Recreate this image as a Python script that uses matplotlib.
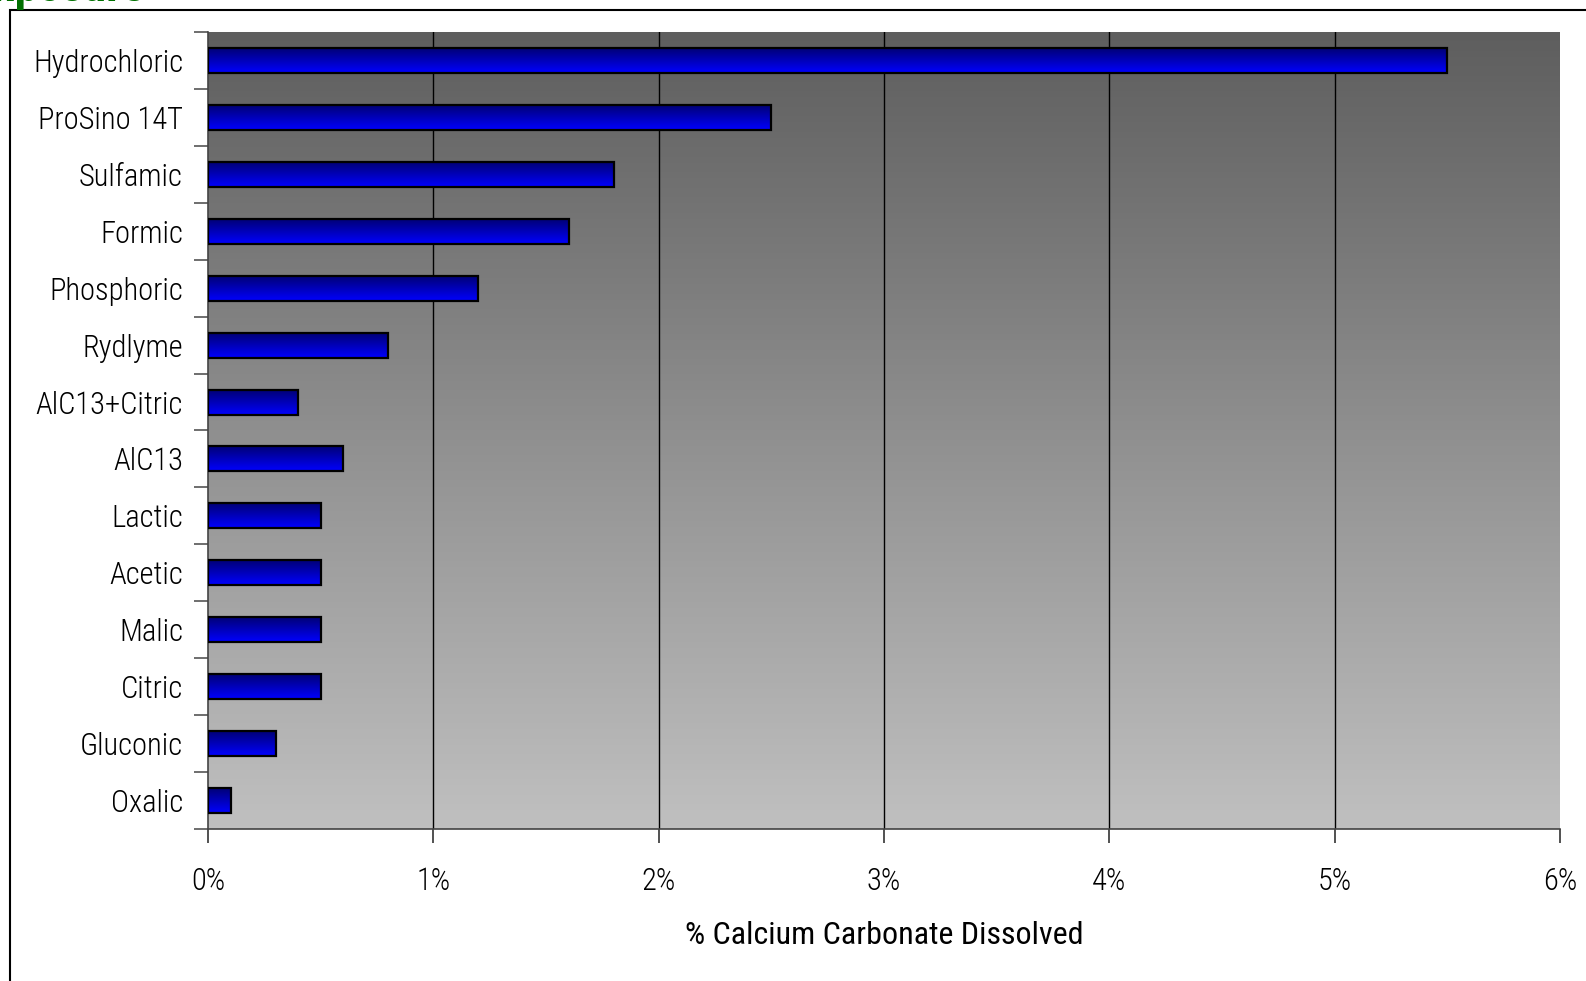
import numpy as np
import matplotlib
matplotlib.use("Agg")
import matplotlib.pyplot as plt
import matplotlib.ticker as ticker
from matplotlib import font_manager
from matplotlib.patches import Rectangle
from matplotlib.colors import LinearSegmentedColormap

# Data (top to bottom)
acids = ["Hydrochloric", "ProSino 14T", "Sulfamic", "Formic", "Phosphoric",
         "Rydlyme", "AlC13+Citric", "AlC13", "Lactic", "Acetic", "Malic",
         "Citric", "Gluconic", "Oxalic"]
dissolved = [5.5, 2.5, 1.8, 1.6, 1.2, 0.8, 0.4, 0.6, 0.5, 0.5, 0.5, 0.5, 0.3, 0.1]
xticks = [0, 1, 2, 3, 4, 5, 6]

# pick a narrow font if one is there
names = {f.name for f in font_manager.fontManager.ttflist}
font = "DejaVu Sans"
for cand in ["Roboto Condensed", "Liberation Sans Narrow", "DejaVu Sans Condensed"]:
    if cand in names:
        font = cand
        break
plt.rcParams["font.family"] = [font, "DejaVu Sans"]

fig = plt.figure(figsize=(15.86, 9.81), dpi=100)
W, H = 1586, 981
ax = fig.add_axes([208 / W, 1 - 829 / H, (1560 - 208) / W, (829 - 32) / H])

n = len(acids)
y = np.arange(n)

# background gradient (dark top -> light bottom)
bg = LinearSegmentedColormap.from_list("bg", ["#5e5e5e", "#c0c0c0"])
grad = np.linspace(0, 1, 256).reshape(-1, 1)
ax.imshow(grad, cmap=bg, aspect="auto", extent=(0, 6, n - 0.5, -0.5), zorder=0)

# gridlines
for xv in xticks[1:-1]:
    ax.axvline(xv, color="black", lw=1, zorder=1)

# bars with vertical blue gradient
barcm = LinearSegmentedColormap.from_list("bar", ["#000070", "#0000ff"])
h = 0.44
for yi, v in zip(y, dissolved):
    ax.imshow(grad, cmap=barcm, aspect="auto",
              extent=(0, v, yi + h / 2, yi - h / 2), zorder=2)
    ax.add_patch(Rectangle((0, yi - h / 2), v, h, fill=False, ec="black", lw=1.6, zorder=3))
ax.set_xlim(0, 6)
ax.set_ylim(n - 0.5, -0.5)

ax.set_yticks(y)
ax.set_yticklabels(acids, fontsize=22, fontweight="light")
ax.yaxis.set_minor_locator(ticker.FixedLocator(np.arange(-0.5, n, 1)))
ax.tick_params(axis="y", which="major", length=0, pad=18)
ax.tick_params(axis="y", which="minor", length=10, color="#555555", width=1.2)

ax.set_xticks(xticks)
ax.set_xticklabels([f"{t}%" for t in xticks], fontsize=22, fontweight="light")
ax.tick_params(axis="x", length=10, width=1.2, color="#333333", pad=17)
ax.set_xlabel("% Calcium Carbonate Dissolved", fontsize=23, fontweight="normal", labelpad=18)

for s in ["top", "right"]:
    ax.spines[s].set_visible(False)
ax.spines["left"].set_color("#444444")
ax.spines["bottom"].set_color("#444444")
ax.spines["left"].set_linewidth(1.2)
ax.spines["bottom"].set_linewidth(1.2)

# outer frame, runs off the right and bottom edges
fig.add_artist(Rectangle((10 / W, -0.02), 1.05, 1 - 10 / H + 0.02, transform=fig.transFigure,
                         fill=False, ec="black", lw=1.5, clip_on=False))

# title clipped by the top edge
fig.text(-30 / W, 1 - 1 / H, "Exposure", color="#007000", fontsize=34, fontweight="bold",
         va="baseline", ha="left")

fig.savefig("out.png", dpi=100)
